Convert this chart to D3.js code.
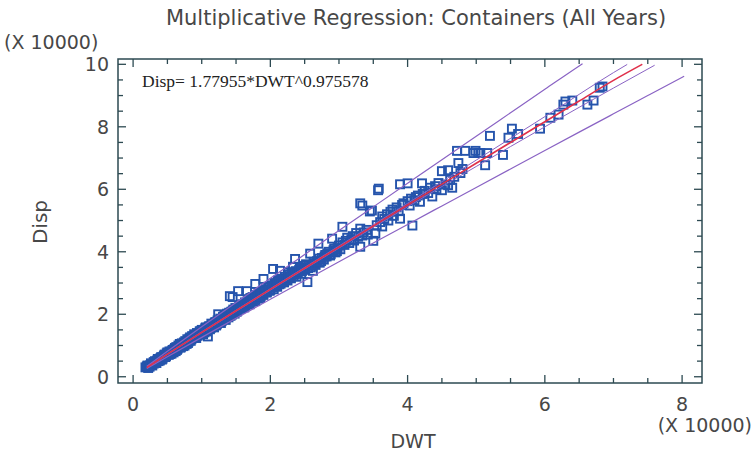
<!DOCTYPE html>
<html><head><meta charset="utf-8">
<script src="https://cdn.jsdelivr.net/npm/d3@7/dist/d3.min.js"></script>
<style>html,body{margin:0;padding:0;background:#fff;}svg{display:block;}</style>
</head><body>
<svg id="chart" width="755" height="455"></svg>
<script>
// ---------- data (units of 10000) ----------
const title = "Multiplicative Regression: Containers (All Years)";
const equation = "Disp= 1.77955*DWT^0.975578";
const xTicks = [0, 2, 4, 6, 8];
const yTicks = [0, 2, 4, 6, 8, 10];

const dwt = [0.18,0.20,0.22,0.25,0.27,0.30,0.30,0.33,0.35,0.37,0.38,0.40,0.42,0.44,0.45,0.47,0.50,0.50,0.52,0.55,
0.56,0.58,0.60,0.62,0.63,0.65,0.67,0.68,0.70,0.72,0.74,0.75,0.77,0.80,0.80,0.82,0.85,0.86,0.88,0.90,
0.92,0.95,0.97,1.00,1.00,1.02,1.05,1.08,1.09,1.10,1.12,1.15,1.18,1.20,1.22,1.24,1.25,1.28,1.30,1.31,
1.32,1.35,1.38,1.40,1.41,1.42,1.45,1.45,1.48,1.50,1.52,1.53,1.55,1.58,1.60,1.62,1.65,1.66,1.68,1.70,
1.72,1.75,1.78,1.78,1.80,1.82,1.85,1.88,1.90,1.90,1.92,1.95,1.98,2.00,2.02,2.04,2.05,2.08,2.10,2.12,
2.14,2.15,2.18,2.20,2.22,2.25,2.26,2.28,2.30,2.33,2.35,2.36,2.38,2.40,2.42,2.45,2.48,2.50,2.52,2.54,
2.55,2.58,2.60,2.62,2.65,2.68,2.70,2.72,2.75,2.78,2.80,2.82,2.85,2.88,2.90,2.92,2.95,2.98,3.00,3.02,
3.05,3.05,3.08,3.10,3.12,3.15,3.18,3.20,3.22,3.25,3.28,3.31,3.31,3.31,3.34,3.34,3.36,3.40,3.42,3.45,
3.48,3.50,3.53,3.55,3.57,3.58,3.60,3.63,3.63,3.66,3.70,3.72,3.75,3.78,3.80,3.84,3.87,3.89,3.89,3.92,
3.94,4.00,4.00,4.03,4.05,4.07,4.10,4.12,4.15,4.18,4.21,4.22,4.25,4.30,4.33,4.36,4.40,4.42,4.45,4.50,
4.50,4.55,4.59,4.59,4.62,4.65,4.68,4.72,4.74,4.77,4.80,4.84,4.96,4.99,5.03,5.06,5.13,5.16,5.20,5.39,
5.47,5.52,5.61,5.93,6.08,6.20,6.27,6.30,6.40,6.62,6.71,6.80,6.84,
0.21,0.24,0.26,0.28,0.32,0.34,0.36,0.39,0.41,0.43,0.46,0.48,0.49,0.53,0.54,0.57,0.59,0.61,0.64,0.66,
0.69,0.71,0.73,0.76,0.78,0.79,0.81,0.83,0.84,0.87,0.89,0.91,0.93,0.94,0.96,0.98,0.99,1.03,1.04,1.06,
1.07,1.11,1.13,1.14,1.16,1.19,1.21,1.23,1.26,1.27,1.29,1.33,1.34,1.36,1.37,1.39,1.43,1.44,1.46,1.47,
1.49,1.51,1.54,1.56,1.59,1.61,1.63,1.64,1.67,1.69,1.71,1.73,1.74,1.76,1.79,1.81,1.83,1.86,1.87,1.89,
1.93,1.94,1.97,1.99,2.03,2.06,2.09,2.11,2.13,2.16,2.19,2.21,2.23,2.27,2.29,2.31,2.34,2.37,2.39,2.43,
2.46,2.49,2.51,2.56,2.59,2.63,2.66,2.71,2.74,2.79,2.83,2.87,2.93,2.97];
const disp = [0.30,0.33,0.28,0.37,0.40,0.42,0.47,0.46,0.52,0.50,0.56,0.60,0.55,0.64,0.68,0.63,0.72,0.78,0.70,0.80,
0.74,0.86,0.88,0.82,0.95,0.90,0.98,1.05,0.96,1.04,1.10,1.00,1.12,1.18,1.08,1.22,1.20,1.30,1.25,1.32,
1.24,1.38,1.45,1.40,1.50,1.36,1.55,1.48,1.29,1.60,1.52,1.65,1.58,1.75,1.68,2.00,1.80,1.72,1.85,1.92,
1.90,1.82,1.98,2.05,2.58,1.95,2.10,2.55,2.02,2.18,2.12,2.74,2.25,2.20,2.30,2.22,2.35,2.74,2.40,2.32,
2.45,2.50,2.97,2.42,2.55,2.60,2.52,2.68,3.13,2.62,2.75,2.70,2.85,2.78,2.92,3.45,2.80,2.95,2.88,3.05,
3.39,2.98,3.10,3.02,3.15,3.08,3.35,3.22,3.15,3.52,3.28,3.77,3.20,3.35,3.42,3.30,3.50,3.42,3.60,3.03,
3.48,3.94,3.55,3.39,3.62,3.70,4.26,3.65,3.80,3.75,3.90,3.85,4.00,3.92,4.42,4.05,3.98,4.12,4.20,4.08,
4.80,4.30,4.22,4.35,4.45,4.28,4.40,4.50,4.36,4.60,4.48,4.74,4.16,5.55,5.48,4.52,4.62,4.70,4.55,5.29,
5.32,4.35,4.58,4.85,5.97,6.02,4.95,5.13,4.81,5.05,5.20,5.00,5.28,5.35,5.15,5.42,5.30,5.06,6.16,5.50,
5.55,6.19,5.62,5.48,5.70,4.84,5.65,5.75,5.80,5.60,6.19,5.85,5.95,5.88,6.05,5.77,6.10,6.00,6.20,5.97,
6.58,6.15,6.13,6.61,6.30,6.05,6.40,7.23,6.84,6.52,6.65,7.23,7.16,7.23,7.16,7.16,6.77,7.16,7.71,7.10,
7.65,7.94,7.77,7.94,8.29,8.39,8.71,8.81,8.84,8.71,8.84,9.25,9.29,
0.36,0.32,0.43,0.36,0.50,0.44,0.57,0.52,0.63,0.58,0.71,0.66,0.75,0.81,0.73,0.84,0.78,0.92,0.86,1.00,
0.93,1.07,0.98,1.14,1.05,1.20,1.13,1.26,1.15,1.28,1.36,1.27,1.40,1.31,1.35,1.46,1.37,1.50,1.42,1.58,
1.45,1.62,1.56,1.70,1.60,1.73,1.64,1.80,1.76,1.86,1.78,1.95,1.84,1.94,2.02,1.90,2.08,1.99,2.15,2.05,
2.20,2.08,2.22,2.17,2.32,2.26,2.38,2.28,2.42,2.36,2.52,2.40,2.55,2.46,2.62,2.50,2.66,2.58,2.72,2.64,
2.80,2.70,2.88,2.75,2.86,3.00,2.92,3.08,2.96,3.12,3.05,3.20,3.10,3.28,3.18,3.32,3.22,3.38,3.30,3.48,
3.38,3.55,3.45,3.58,3.50,3.68,3.58,3.78,3.70,3.85,3.95,3.88,4.10,4.02];

// fitted model line and limits
const fitX = [0.2,0.5,1,1.5,2,2.5,3,3.5,4,4.5,5,5.5,6,6.5,7,7.42];
const fitY = [0.296,0.723,1.421,2.111,2.795,3.474,4.151,4.824,5.496,6.165,6.832,7.498,8.163,8.826,9.487,10.0];
const predUpX = [0.2,0.5,1,1.5,2,2.5,3,3.5,4,4.5,5,5.5,6,6.5,6.55];
const predUpY = [0.334,0.815,1.601,2.379,3.150,3.915,4.678,5.437,6.194,6.948,7.700,8.450,9.200,9.947,10.02];
const predLoX = [0.2,0.5,1,1.5,2,2.5,3,3.5,4,4.5,5,5.5,6,6.5,7,7.5,8.03];
const predLoY = [0.263,0.641,1.260,1.872,2.479,3.081,3.682,4.279,4.875,5.468,6.060,6.651,7.241,7.829,8.415,9.000,9.62];
const confUpX = [0.2,0.5,1,2,3,4,5,6,7,7.2];
const confUpY = [0.305,0.737,1.438,2.817,4.184,5.551,6.934,8.326,9.734,9.996];
const confLoX = [0.2,0.5,1,2,3,4,5,6,7,7.6];
const confLoY = [0.287,0.709,1.404,2.773,4.118,5.441,6.730,8.000,9.240,9.97];

// ---------- drawing ----------
const svg = d3.select("#chart");
const L = 118, R = 702, T = 59, B = 383;
const x = d3.scaleLinear().domain([-0.22, 8.29]).range([L, R]);
const y = d3.scaleLinear().domain([-0.2, 10.17]).range([B, T]);

const textCol = "#474747";
const frameCol = "#2d4a52";
const font = "DejaVu Sans";

svg.append("text").attr("x", 416).attr("y", 25).attr("text-anchor", "middle")
  .attr("font-family", font).attr("font-size", 21).attr("fill", textCol).text(title);

svg.append("defs").append("clipPath").attr("id", "clip")
  .append("rect").attr("x", L).attr("y", T).attr("width", R - L).attr("height", B - T);

const plot = svg.append("g").attr("clip-path", "url(#clip)");

// points
plot.append("g").selectAll("rect").data(dwt.map((d, i) => [d, disp[i]])).join("rect")
  .attr("x", d => x(d[0]) - 4).attr("y", d => y(d[1]) - 4)
  .attr("width", 8).attr("height", 8)
  .attr("fill", "none").attr("stroke", "#2554ac").attr("stroke-width", 1.9);

const line = d3.line().x(d => x(d[0])).y(d => y(d[1])).curve(d3.curveMonotoneX);
function drawLine(xs, ys, col, w) {
  plot.append("path").datum(xs.map((v, i) => [v, ys[i]])).attr("d", line)
    .attr("fill", "none").attr("stroke", col).attr("stroke-width", w);
}
drawLine(predUpX, predUpY, "#8a63c4", 1.2);
drawLine(predLoX, predLoY, "#8a63c4", 1.2);
drawLine(confUpX, confUpY, "#8a63c4", 1);
drawLine(confLoX, confLoY, "#8a63c4", 1);
drawLine(fitX, fitY, "#e0304a", 1.6);

// frame
svg.append("rect").attr("x", L).attr("y", T).attr("width", R - L).attr("height", B - T)
  .attr("fill", "none").attr("stroke", frameCol).attr("stroke-width", 1.5);

// ticks
const xMinor = d3.range(0, 8.01, 0.5);
const yMinor = d3.range(0, 10.01, 0.5);
const tk = svg.append("g").attr("stroke", frameCol).attr("stroke-width", 1.3);
xMinor.forEach(v => {
  const len = (Math.abs(v % 2) < 1e-6) ? 8 : 5;
  tk.append("line").attr("x1", x(v)).attr("x2", x(v)).attr("y1", B).attr("y2", B - len);
  tk.append("line").attr("x1", x(v)).attr("x2", x(v)).attr("y1", T).attr("y2", T + len);
});
yMinor.forEach(v => {
  const len = (Math.abs(v % 2) < 1e-6) ? 8 : 5;
  tk.append("line").attr("y1", y(v)).attr("y2", y(v)).attr("x1", L).attr("x2", L + len);
  tk.append("line").attr("y1", y(v)).attr("y2", y(v)).attr("x1", R).attr("x2", R - len);
});

// tick labels
svg.append("g").selectAll("text").data(xTicks).join("text")
  .attr("x", d => x(d)).attr("y", 411).attr("text-anchor", "middle")
  .attr("font-family", font).attr("font-size", 19).attr("fill", textCol).text(d => d);
svg.append("g").selectAll("text").data(yTicks).join("text")
  .attr("x", 109).attr("y", d => y(d) + 7).attr("text-anchor", "end")
  .attr("font-family", font).attr("font-size", 19).attr("fill", textCol).text(d => d);

svg.append("text").attr("x", 4).attr("y", 49).attr("font-family", font)
  .attr("font-size", 19).attr("fill", textCol).text("(X 10000)");
svg.append("text").attr("x", 752).attr("y", 432).attr("text-anchor", "end").attr("font-family", font)
  .attr("font-size", 19).attr("fill", textCol).text("(X 10000)");
svg.append("text").attr("x", 413).attr("y", 448).attr("text-anchor", "middle").attr("font-family", font)
  .attr("font-size", 19).attr("fill", textCol).text("DWT");
svg.append("text").attr("transform", "translate(47,222) rotate(-90)").attr("text-anchor", "middle")
  .attr("font-family", font).attr("font-size", 20).attr("fill", textCol).text("Disp");

svg.append("text").attr("x", 142).attr("y", 87).attr("font-family", "Liberation Serif")
  .attr("font-size", 17.5).attr("fill", "#222").text(equation);
</script>
</body></html>
